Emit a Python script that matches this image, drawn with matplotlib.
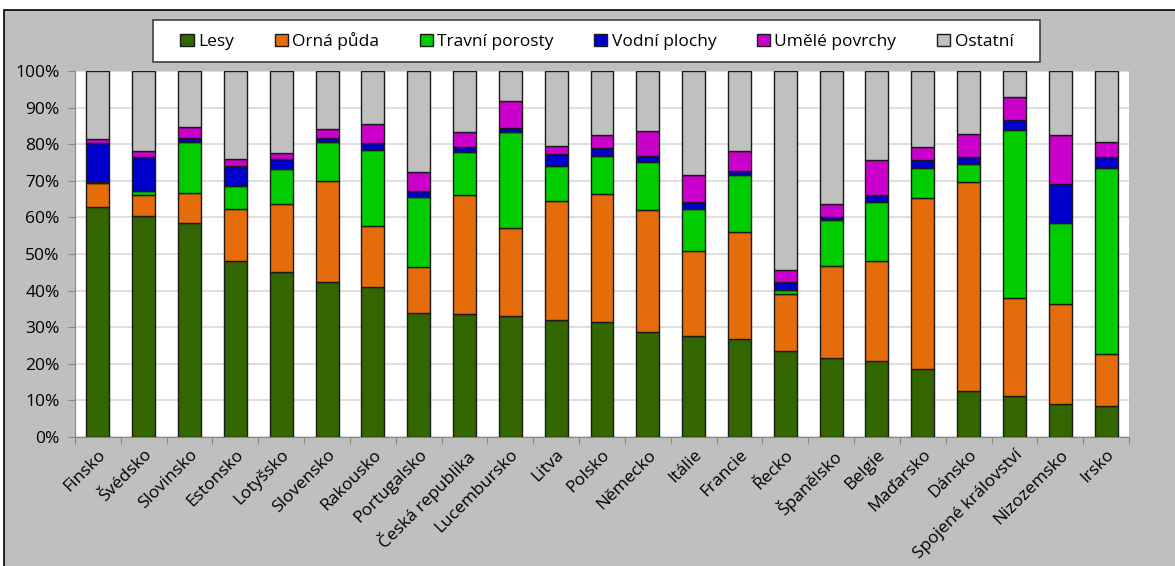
import numpy as np
import matplotlib
matplotlib.use("Agg")
import matplotlib.pyplot as plt
from matplotlib.patches import Rectangle

plt.rcParams['font.family'] = ['Open Sans', 'DejaVu Sans']

countries = ["Finsko", "Švédsko", "Slovinsko", "Estonsko", "Lotyšsko", "Slovensko",
             "Rakousko", "Portugalsko", "Česká republika", "Lucembursko", "Litva",
             "Polsko", "Německo", "Itálie", "Francie", "Řecko", "Španělsko", "Belgie",
             "Maďarsko", "Dánsko", "Spojené království", "Nizozemsko", "Irsko"]

lesy = [62.8, 60.4, 58.4, 48.0, 45.1, 42.4, 41.1, 33.9, 33.6, 33.1, 31.9, 31.5,
        28.8, 27.6, 26.8, 23.6, 21.6, 20.7, 18.7, 12.7, 11.2, 9.1, 8.4]
orna = [6.7, 5.6, 8.4, 14.3, 18.5, 27.6, 16.5, 12.5, 32.5, 24.1, 32.5, 34.9,
        33.2, 23.2, 29.2, 15.5, 25.2, 27.3, 46.5, 56.9, 26.7, 27.3, 14.3]
travni = [0.2, 1.2, 13.9, 6.4, 9.6, 10.7, 20.7, 19.2, 11.8, 26.0, 9.6, 10.4,
          13.2, 11.5, 15.6, 1.2, 12.4, 16.3, 8.4, 5.1, 46.1, 22.0, 50.9]
vodni = [10.5, 9.2, 0.9, 5.3, 2.8, 0.9, 2.1, 1.6, 1.3, 1.2, 3.3, 2.1,
         1.6, 2.0, 1.1, 2.1, 1.0, 1.8, 2.1, 1.7, 2.5, 10.8, 2.8]
umele = [1.2, 1.7, 3.2, 2.0, 1.6, 2.5, 5.2, 5.2, 4.1, 7.3, 2.3, 3.5,
         6.8, 7.2, 5.4, 3.2, 3.5, 9.6, 3.6, 6.4, 6.4, 13.2, 4.1]

series_names = ["Lesy", "Orná půda", "Travní porosty", "Vodní plochy", "Umělé povrchy", "Ostatní"]
colors = ["#336600", "#E46C0A", "#00CC00", "#0000CC", "#CC00CC", "#C0C0C0"]


def main():
    parts = [np.array(lesy), np.array(orna), np.array(travni), np.array(vodni), np.array(umele)]
    ostatni = 100 - sum(parts)
    parts.append(ostatni)

    fig = plt.figure(figsize=(11.75, 5.66), dpi=100)
    fig.patch.set_facecolor("white")
    W, H = 1175, 566
    # grey chart frame like Excel
    fig.patches.append(Rectangle((4 / W, -0.05), 1.1, 1 - 10 / H + 0.05,
                                 transform=fig.transFigure, facecolor="#BFBFBF",
                                 edgecolor="black", linewidth=1.2, zorder=-5))
    # legend box
    fig.patches.append(Rectangle((153 / W, 1 - 62 / H), (1040 - 153) / W, 42 / H,
                                 transform=fig.transFigure, facecolor="white",
                                 edgecolor="#404040", linewidth=1.2, zorder=-4))

    ax = fig.add_axes([75 / W, 1 - 437 / H, (1129 - 75) / W, (437 - 71) / H])
    ax.set_facecolor("white")

    x = np.arange(len(countries))
    bottom = np.zeros(len(countries))
    for name, vals, col in zip(series_names, parts, colors):
        ax.bar(x, vals, 0.5, bottom=bottom, color=col, edgecolor="#1a1a1a",
               linewidth=1.0, label=name, zorder=3)
        bottom += vals

    ax.set_xlim(-0.5, len(countries) - 0.5)
    ax.set_ylim(0, 100)
    ax.set_yticks(np.arange(0, 101, 10))
    ax.set_yticklabels([f"{v}%" for v in range(0, 101, 10)], fontsize=12.5)
    ax.yaxis.grid(True, color="#D9D9D9", linewidth=1.2, zorder=0)
    ax.set_axisbelow(True)

    ax.set_xticks(np.arange(-0.5, len(countries), 1))
    ax.set_xticklabels([])
    ax.set_xticks(x, minor=True)
    ax.set_xticklabels(countries, minor=True, rotation=45, ha="right",
                       rotation_mode="anchor", fontsize=12.5)
    ax.tick_params(axis="x", which="minor", length=0, pad=7)
    ax.tick_params(axis="x", which="major", length=5, color="#868686")
    ax.tick_params(axis="y", length=5, color="#868686", pad=6)

    for side in ["top", "right"]:
        ax.spines[side].set_visible(False)
    for side in ["left", "bottom"]:
        ax.spines[side].set_color("#868686")

    fig.legend(loc="center", bbox_to_anchor=(597 / W, 1 - 41 / H), ncol=6,
               fontsize=12.5, frameon=False,
               handlelength=0.75, handleheight=0.75, handletextpad=0.25,
               columnspacing=2.35, borderpad=0.45, borderaxespad=0)

    fig.savefig("out.png", dpi=100)


if __name__ == "__main__":
    main()
